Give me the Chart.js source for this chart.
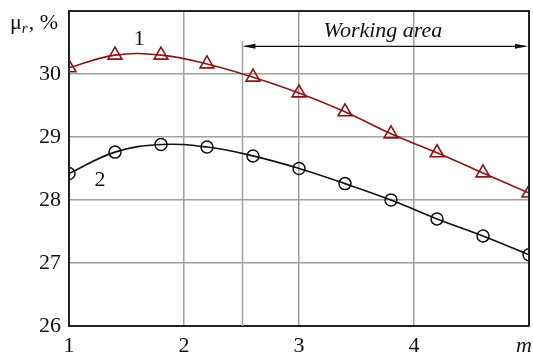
<!DOCTYPE html>
<html>
<head>
<meta charset="utf-8">
<script src="https://cdn.jsdelivr.net/npm/chart.js@4/dist/chart.umd.min.js"></script>
<style>
  html, body { margin: 0; padding: 0; background: #fff; }
  canvas { display: block; }
</style>
</head>
<body>
<canvas id="chart" width="533" height="356"></canvas>
<script>
// Modulus m and the two measured curves of mu_r (%)
const mValues   = [1.0, 1.4, 1.8, 2.2, 2.6, 3.0, 3.4, 3.8, 4.2, 4.6, 5.0];
const curve1    = [30.10, 30.30, 30.30, 30.16, 29.95, 29.70, 29.40, 29.05, 28.75, 28.43, 28.11];
const curve2    = [28.42, 28.76, 28.88, 28.84, 28.70, 28.50, 28.26, 28.00, 27.70, 27.43, 27.13];
const curveNames = ['1', '2'];
const xTicks      = [1, 2, 3, 4, 5];
const xTickLabels = ['1', '2', '3', '4', ''];
const xAxisName   = 'm';
const yTicks      = [26, 27, 28, 29, 30];
const workingArea = [2.5, 5];
const workingLabel = 'Working area';

const SERIF = '"Liberation Serif", "DejaVu Serif", serif';
const GRID = '#a0a0a0';
const AXIS = '#222';
const RED = '#8b1414';

const decorations = {
  id: 'decorations',
  beforeDatasetsDraw(chart) {
    const { ctx, scales: { x, y } } = chart;
    // extension line marking the start of the working area
    ctx.save();
    ctx.strokeStyle = GRID;
    ctx.lineWidth = 1.5;
    const px = Math.round(x.getPixelForValue(workingArea[0])) + 0.5;
    ctx.beginPath();
    ctx.moveTo(px, y.getPixelForValue(30.52));
    ctx.lineTo(px, y.getPixelForValue(26));
    ctx.stroke();
    ctx.restore();
  },
  afterDatasetsDraw(chart) {
    const { ctx, chartArea: a, scales: { x, y } } = chart;
    ctx.save();
    // frame (top and right sides)
    ctx.strokeStyle = AXIS;
    ctx.lineWidth = 2;
    ctx.beginPath();
    ctx.moveTo(a.left, a.top);
    ctx.lineTo(a.right, a.top);
    ctx.lineTo(a.right, a.bottom);
    ctx.stroke();

    // double-headed arrow over the working area
    const ay = y.getPixelForValue(30.44);
    const x0 = x.getPixelForValue(workingArea[0]);
    const x1 = x.getPixelForValue(workingArea[1]);
    ctx.strokeStyle = '#111';
    ctx.fillStyle = '#111';
    ctx.lineWidth = 1.2;
    ctx.beginPath();
    ctx.moveTo(x0 + 4, ay);
    ctx.lineTo(x1 - 4, ay);
    ctx.stroke();
    const head = (tip, dir) => {
      ctx.beginPath();
      ctx.moveTo(tip, ay);
      ctx.lineTo(tip + dir * 13, ay - 2.5);
      ctx.lineTo(tip + dir * 13, ay + 2.5);
      ctx.closePath();
      ctx.fill();
    };
    head(x0 + 1, 1);
    head(x1 - 1, -1);

    ctx.fillStyle = '#111';
    ctx.textAlign = 'center';
    ctx.textBaseline = 'middle';
    ctx.font = 'italic 22px ' + SERIF;
    ctx.fillText(workingLabel, x.getPixelForValue(3.73), y.getPixelForValue(30.685));

    // curve numbers
    ctx.font = '22px ' + SERIF;
    ctx.fillText(curveNames[0], x.getPixelForValue(1.61), y.getPixelForValue(30.55));
    ctx.fillText(curveNames[1], x.getPixelForValue(1.27), y.getPixelForValue(28.32));

    // x axis name at the end of the axis
    ctx.textAlign = 'right';
    ctx.textBaseline = 'middle';
    ctx.font = 'italic 22px ' + SERIF;
    ctx.fillText(xAxisName, 532, a.bottom + 20);

    // axis title mu_r, %
    ctx.textAlign = 'left';
    ctx.textBaseline = 'alphabetic';
    ctx.font = '22px ' + SERIF;
    let tx = 10, ty = 29;
    ctx.fillText('\u03bc', tx, ty);
    tx += ctx.measureText('\u03bc').width;
    ctx.font = 'italic 15px ' + SERIF;
    ctx.fillText('r', tx, ty + 4);
    tx += ctx.measureText('r').width + 1;
    ctx.font = '22px ' + SERIF;
    ctx.fillText(', %', tx, ty);
    ctx.restore();
  }
};

new Chart(document.getElementById('chart'), {
  type: 'line',
  data: {
    datasets: [
      {
        label: curveNames[0],
        data: mValues.map((m, i) => ({ x: m, y: curve1[i] })),
        borderColor: RED,
        borderWidth: 1.6,
        tension: 0.4,
        pointStyle: 'triangle',
        pointRadius: 8,
        pointBorderWidth: 1.6,
        pointBorderColor: RED,
        pointBackgroundColor: 'rgba(0,0,0,0)'
      },
      {
        label: curveNames[1],
        data: mValues.map((m, i) => ({ x: m, y: curve2[i] })),
        borderColor: '#111',
        borderWidth: 1.6,
        tension: 0.4,
        pointStyle: 'circle',
        pointRadius: 6,
        pointBorderWidth: 1.5,
        pointBorderColor: '#111',
        pointBackgroundColor: 'rgba(0,0,0,0)'
      }
    ]
  },
  options: {
    responsive: false,
    devicePixelRatio: 1,
    animation: false,
    layout: { autoPadding: false, padding: { top: 11, right: 4, left: 0, bottom: 0 } },
    plugins: { legend: { display: false }, tooltip: { enabled: false } },
    scales: {
      x: {
        type: 'linear',
        min: 1, max: 5,
        afterBuildTicks: (s) => { s.ticks = xTicks.map(v => ({ value: v })); },
        afterFit: (s) => { s.height = 30; s.paddingLeft = 0; s.paddingRight = 0; },
        ticks: {
          autoSkip: false,
          maxRotation: 0,
          padding: 7,
          color: '#111',
          callback: (v, i) => xTickLabels[i],
          font: { family: SERIF, size: 22 }
        },
        grid: { color: GRID, lineWidth: 1.5, drawTicks: false },
        border: { display: true, color: AXIS, width: 2 }
      },
      y: {
        min: 26, max: 31,
        afterBuildTicks: (s) => { s.ticks = yTicks.map(v => ({ value: v })); },
        afterFit: (s) => { s.width = 69; s.paddingTop = 0; s.paddingBottom = 0; },
        ticks: {
          padding: 8,
          color: '#111',
          callback: (v) => String(v),
          font: { family: SERIF, size: 22 }
        },
        grid: { color: GRID, lineWidth: 1.5, drawTicks: false },
        border: { display: true, color: AXIS, width: 2 }
      }
    }
  },
  plugins: [decorations]
});
</script>
</body>
</html>
